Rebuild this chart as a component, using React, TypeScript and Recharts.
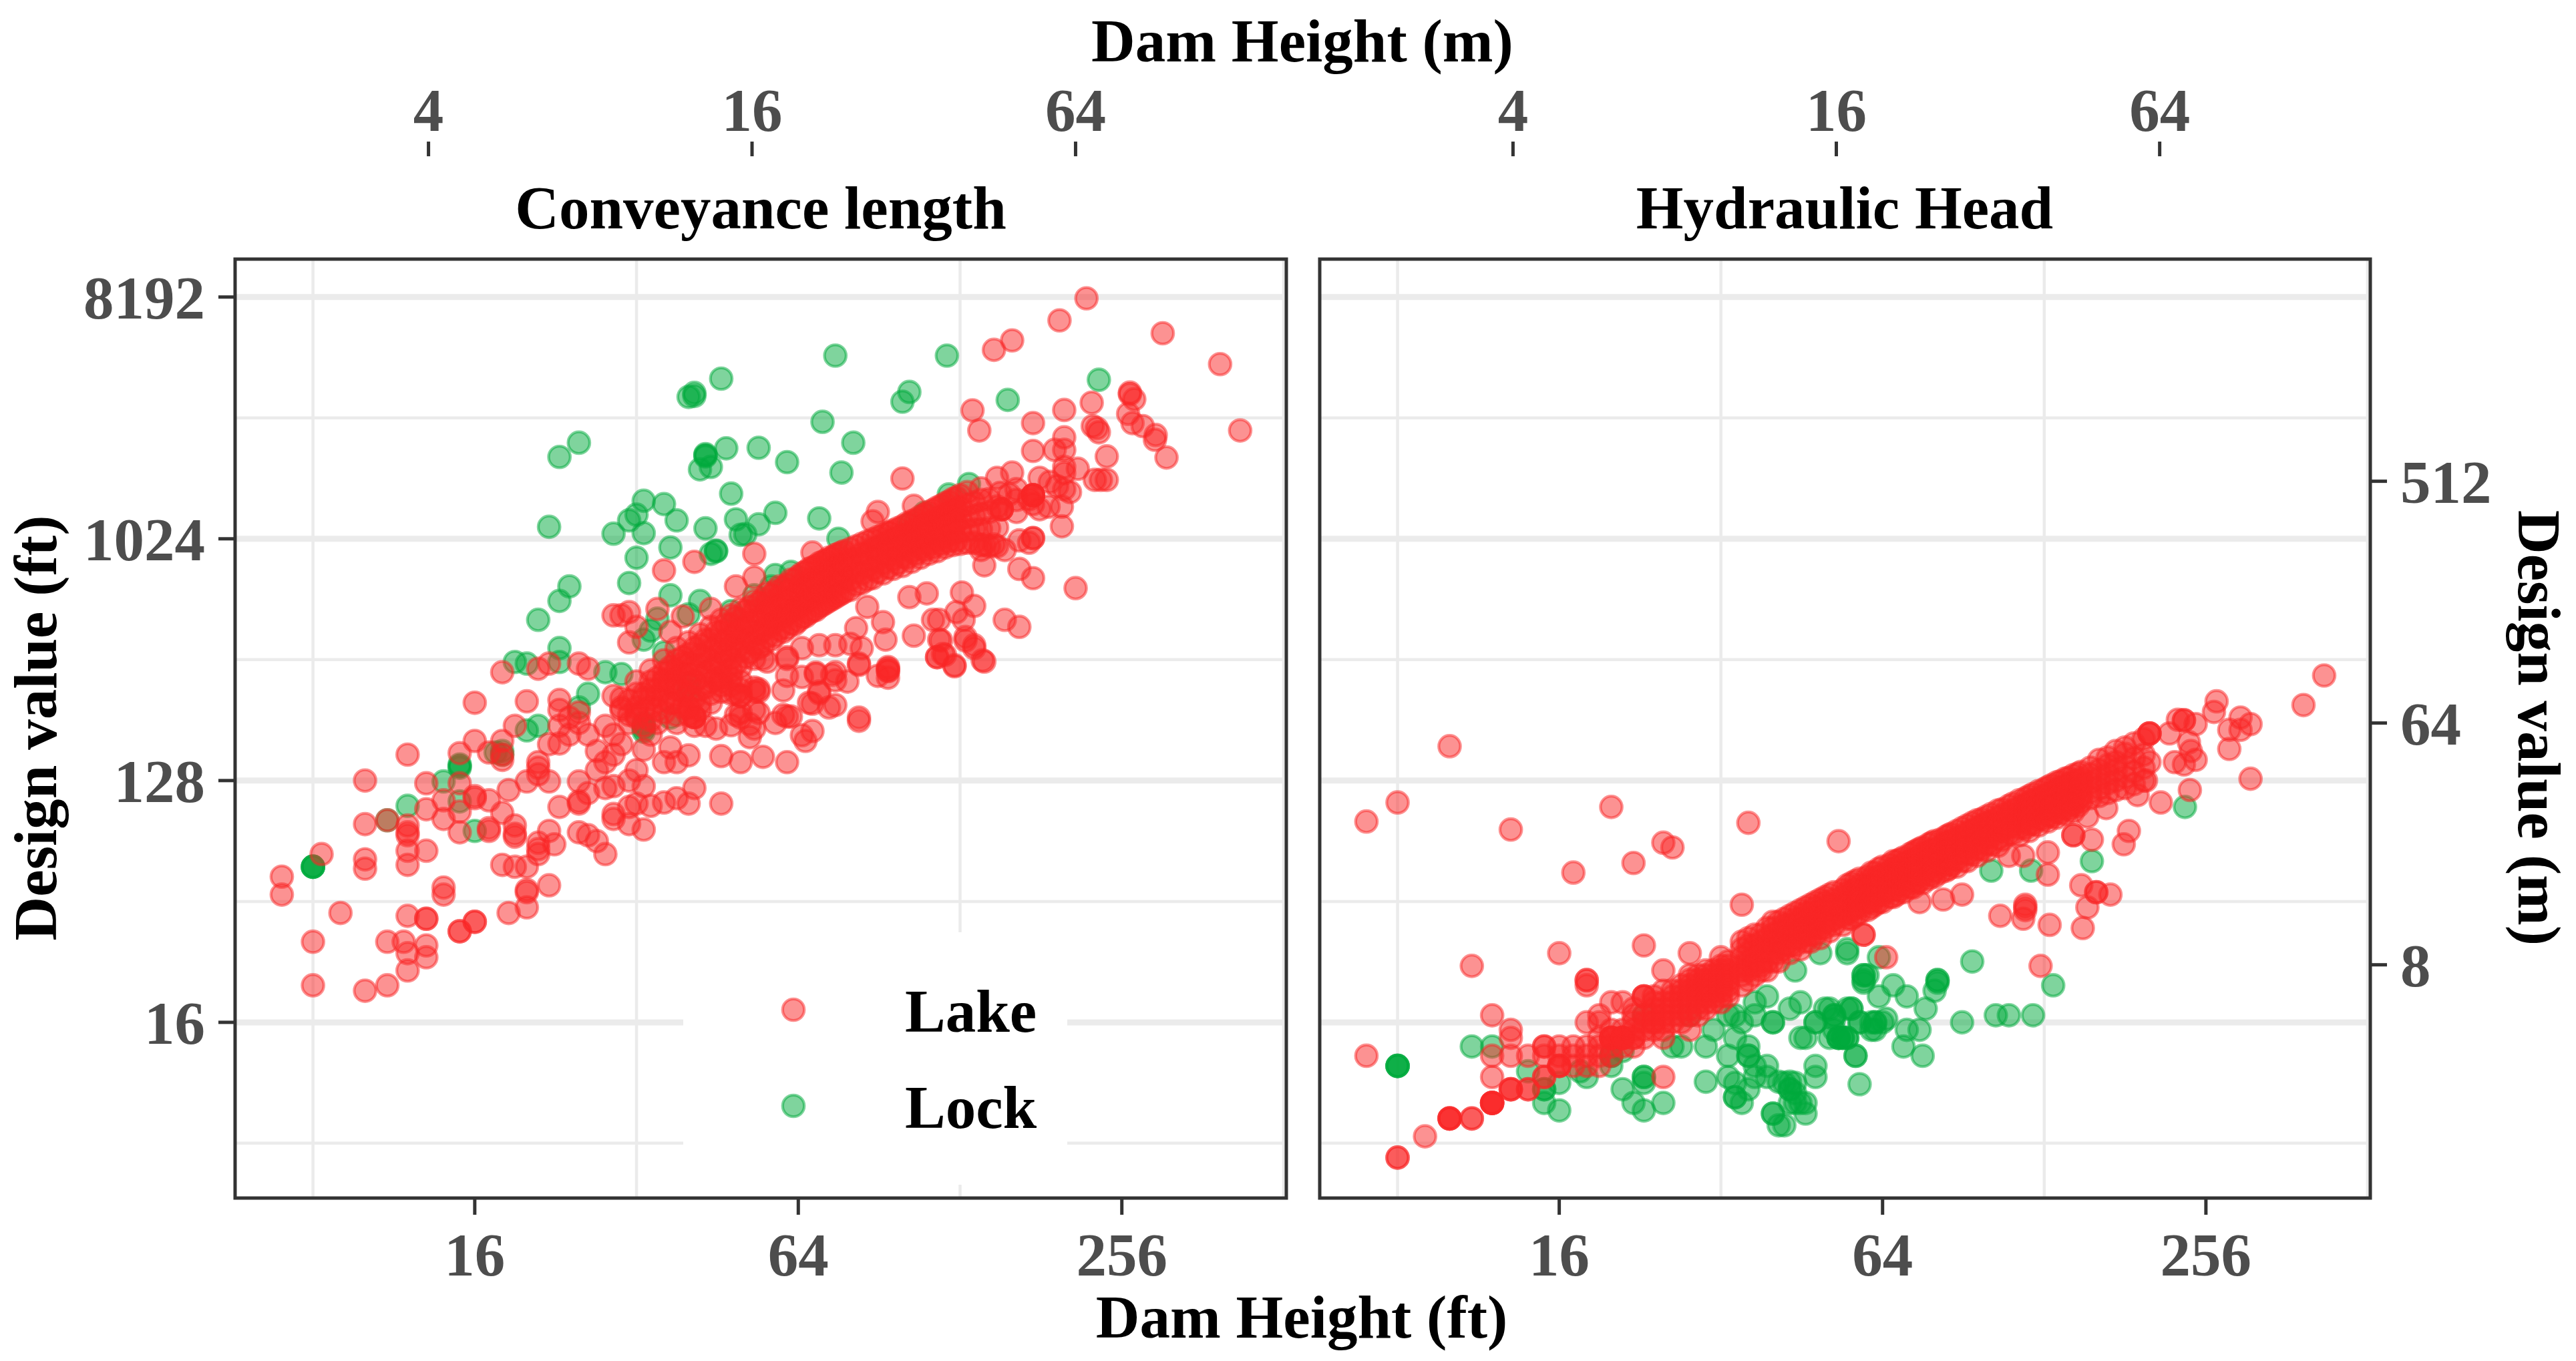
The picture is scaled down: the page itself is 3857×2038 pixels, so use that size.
import React from "react";
import {
  ScatterChart,
  Scatter,
  XAxis,
  YAxis,
  CartesianGrid,
  ReferenceArea,
  Legend,
} from "recharts";

// rows are [dam height in ft, ...design values in ft at that height]
const lakeConveyance: number[][] = [
  [7, 56, 48], [8, 32, 22], [8.3, 68], [9, 41], [10, 128, 88, 65, 60, 21], [11, 91, 32, 22],
  [11.8, 32], [12, 160, 87, 82, 80, 70, 62, 40, 29, 25], [13, 125, 100, 70, 39, 39, 31, 28],
  [14, 108, 92, 51, 48], [15, 162, 125, 98, 82, 35, 35], [16, 250, 180, 112, 110, 38, 38],
  [17, 163, 108, 85, 83], [18, 325, 180, 160, 153, 97, 62], [18.5, 118, 41],
  [19, 205, 87, 81, 79, 61], [20, 253, 127, 61, 50, 49, 43], [21, 335, 150, 143, 135, 75, 71, 68],
  [22, 350, 175, 127, 83, 52], [22.5, 74], [23, 256, 235, 205, 176, 102], [24, 220, 190],
  [25, 350, 230, 210, 127, 107, 105, 82], [26, 335, 190, 115, 80], [27, 165, 140, 76],
  [28, 205, 150, 120, 68], [29, 530, 265, 190, 160, 122, 96, 92], [30, 530, 240, 175],
  [31, 545, 420, 210, 128, 102, 88], [32, 480, 300, 225, 140, 105], [33, 260, 167, 122, 84],
  [34, 190, 103], [35, 560, 280, 210], [36, 780, 305, 150, 106], [37, 460, 330, 250, 170],
  [38, 290, 150, 110], [39, 525, 350], [40, 105, 159, 240], [41, 840, 221, 221, 221, 205, 120],
  [43, 205], [44, 560], [45, 200], [46, 158, 105], [48, 206], [49, 680, 270, 225], [50, 265, 230, 150, 220],
  [52, 208, 186], [53, 900, 735, 365, 285, 235, 275, 200], [54, 281, 229, 275], [55, 365, 157],
  [56, 356], [58, 210], [60, 278, 225], [61, 370, 364, 315, 222, 150], [62, 222], [65, 400, 312, 189],
  [66, 180], [67, 250], [68, 910, 248, 196], [69, 324, 320], [70, 410, 275, 271], [73, 240],
  [74, 318], [75, 410, 325, 303, 245], [79, 300], [80, 415], [82, 475], [83, 350, 346, 220, 214],
  [84, 400], [86, 570], [88, 1190], [90, 1290, 315], [92, 500], [93, 430], [94, 340, 335, 330, 328, 310],
  [95, 1080], [100, 1720], [103, 620], [105, 1360, 445], [111, 640], [114, 510], [116, 370, 370],
  [117, 510, 430], [118, 427], [119, 380], [120, 377], [125, 345, 342], [126, 545], [129, 645],
  [130, 510], [131, 440, 427], [136, 575, 410, 400], [141, 360], [142, 975, 815, 356],
  [135, 3090], [139, 2600], [140, 1580, 930], [148, 5200, 975], [150, 1730], [153, 1320, 1320, 1320],
  [155, 930, 510], [160, 5640, 1810], [163, 1430, 1290, 1570], [165, 1010, 790, 480], [172, 990, 1440],
  [175, 2770, 2180, 1490, 1490, 1490, 1490, 1030, 1030, 730, 1380], [180, 1730, 1320], [192, 2200],
  [152, 1520], [158, 1500], [187, 1350], [188, 1670], [194, 1610],
  [196, 6700], [198, 1140, 1350], [200, 3100, 2450, 2200, 1900, 1800, 1570], [205, 1530], [210, 670], [212, 1870],
  [220, 8100], [225, 3300], [226, 2700], [228, 1700], [230, 2650], [232, 2560], [234, 1700],
  [240, 2080, 1700], [263, 3000], [265, 3600, 3550], [268, 2770], [270, 3400], [280, 2700],
  [295, 2400], [296, 2500], [305, 6000], [310, 2060], [390, 4600], [425, 2600],
  // the thick band through the middle
  [30, 260, 235], [31, 255, 225], [32, 270, 240, 220], [33, 270, 235, 205], [34, 330, 300, 280, 260, 240, 215],
  [35, 310, 265, 235], [36, 360, 325, 300, 280, 255, 230], [37, 340, 295, 250],
  [38, 400, 360, 330, 305, 280, 250, 225, 210], [39, 370, 320, 275, 240],
  [40, 420, 380, 350, 320, 295, 265, 240, 225], [41, 400, 345, 300, 260],
  [42, 450, 410, 375, 345, 310, 280, 250, 235], [43, 430, 370, 325, 285],
  [44, 480, 430, 395, 360, 330, 300, 270, 250], [45, 460, 400, 350, 305],
  [46, 510, 460, 420, 385, 350, 310, 300, 290, 275], [47, 490, 425, 375, 330],
  [48, 530, 490, 445, 405, 365, 330, 310, 290, 270], [49, 520, 450, 400, 350],
  [50, 560, 510, 470, 430, 390, 340, 300, 280, 265], [51, 550, 480, 420, 370], [52, 570, 495, 435, 385],
  [53, 600, 550, 505, 460, 415], [54, 590, 515, 450, 400], [55, 610, 530, 465, 410],
  [56, 640, 590, 540, 490, 440], [57, 630, 555, 485, 430], [58, 650, 570, 500, 445],
  [59, 680, 620, 570, 520, 470], [60, 670, 590, 520, 460], [61, 690, 605, 535, 475],
  [62, 720, 660, 600, 550, 495], [63, 720, 630, 555, 490], [64, 740, 650, 570, 505],
  [65, 760, 690, 630, 575, 520], [66, 770, 670, 595, 525], [67, 790, 690, 610, 540],
  [68, 800, 730, 665, 610, 550], [69, 810, 710, 630, 555], [70, 830, 730, 645, 570],
  [71, 840, 760, 700, 640, 580], [72, 850, 750, 665, 590], [73, 870, 770, 680, 600],
  [74, 870, 800, 730, 670, 610], [75, 890, 790, 700, 620], [76, 900, 800, 715, 630],
  [77, 910, 835, 765, 700, 640], [78, 920, 820, 730, 650], [80, 940, 860, 790, 720, 660],
  [82, 960, 860, 770, 690], [84, 980, 900, 830, 760, 700], [86, 1000, 900, 810, 720],
  [88, 1020, 940, 860, 790, 730], [90, 1040, 950, 860, 770], [92, 1060, 980, 900, 830, 760],
  [94, 1080, 990, 890, 800], [96, 1100, 1020, 930, 860, 790], [98, 1120, 1030, 930, 830],
  [100, 1140, 1050, 960, 880, 810], [102, 1170, 1060, 970, 870], [104, 1190, 1090, 1000, 920, 840],
  [106, 1210, 1110, 1010, 900], [108, 1240, 1130, 1040, 950, 870], [110, 1260, 1150, 1040, 930],
  [112, 1290, 1180, 1080, 980, 900], [114, 1310, 1190, 1080, 950], [116, 1340, 1220, 1110, 1010, 920],
  [118, 1360, 1230, 1110, 980], [120, 1390, 1260, 1150, 1040, 950], [122, 1410, 1270, 1150, 1000],
  [124, 1440, 1300, 1180, 1070, 970], [126, 1460, 1310, 1180, 1010], [128, 1490, 1340, 1210, 1090, 980],
  [132, 1530, 1370, 1230, 1100, 990], [136, 1400, 1250, 1110, 990], [140, 1430, 1270, 1110, 970],
  [145, 1440, 1290, 1120, 960], [150, 1350, 1130, 960],
];

const lockConveyance: number[][] = [
  [8, 61, 61, 61, 61], [11, 91], [12, 103], [14, 127], [15, 147, 145, 143, 107], [16, 83],
  [17.5, 163], [18, 165, 160], [19, 355], [20, 350, 197], [21, 510, 205], [22, 1135],
  [23, 2070, 600, 400, 355], [24, 680], [25, 2340, 240], [26, 270], [28, 325], [29, 1070],
  [30, 320], [31, 1200, 700], [32, 1260, 870], [33, 1420, 1075, 430, 210, 205, 200, 195],
  [34, 465], [35, 515], [36, 1380, 385], [37, 950, 630, 220], [38, 1200], [40, 3470, 535, 290, 278],
  [41, 3590, 3500], [42, 1860, 600], [43, 2120, 2100, 2080, 1120], [44, 1900, 900], [45, 925, 920],
  [46, 4060], [47, 2230], [48, 1510, 550], [49, 1210], [50, 1060], [51, 1065], [53, 630],
  [54, 2240, 1160], [57, 680], [58, 1280, 750], [61, 1980], [62, 770], [70, 1220], [71, 2800],
  [75, 4950], [76, 1024], [77, 1810], [81, 2340], [100, 3330], [103, 3620, 1160], [110, 1280],
  [121, 4950], [122, 1500], [133, 1640], [157, 3380], [232, 4020],
];

const lakeHead: number[][] = [
  [7, 90, 12], [8, 106, 5, 5], [9, 6], [10, 172, 7, 7, 7, 7], [11, 26, 7, 7],
  [12, 17, 12, 10, 8, 8, 8, 8, 8], [13, 84, 15, 14, 12, 9, 9, 9], [14, 12, 9, 9],
  [15, 13, 13, 12, 10, 10], [16, 29, 13, 12, 11, 11, 11], [17, 58, 13, 12, 11],
  [18, 23, 23, 22, 16, 13, 12, 11], [19, 17, 16, 14, 13, 12, 11],
  [20, 102, 19, 15, 14, 14, 14, 14, 13, 12], [21, 19, 15, 14, 14, 14, 14, 14, 13],
  [22, 63, 18, 17, 16, 15, 14, 14, 13], [23, 31, 20, 20, 20, 17, 16, 15, 14],
  [24, 20, 19, 18, 17, 16, 16, 15], [25, 75, 25, 21, 19, 18, 17, 16, 15, 14, 10],
  [26, 72, 21, 20, 19, 18, 17, 16], [27, 22, 21, 20, 19, 18, 17, 16],
  [28, 29, 24, 23, 22, 21, 20, 19, 18, 17, 15], [29, 24, 23, 22, 21, 20, 19, 18, 17],
  [30, 25, 24, 23, 22, 21, 20, 19, 18], [31, 25, 24, 23, 22, 21, 20, 19],
  [32, 28, 26, 25, 24, 23, 22, 21, 20, 19], [33, 27, 26, 25, 24, 23, 22, 21, 20],
  [35, 44, 32, 30, 28, 26, 25, 24, 22], [36, 89, 33, 31, 29, 27, 26, 25, 23],
  [37, 34, 31, 28, 26, 24], [38, 34, 32, 30, 29, 27, 26, 25], [39, 36, 33, 30, 27, 25],
  [40, 38, 36, 34, 32, 30, 29, 27], [41, 38, 35, 32, 29, 27], [42, 39, 37, 35, 33, 31, 30],
  [43, 40, 37, 34, 31, 29], [44, 41, 39, 37, 35, 33, 31], [45, 42, 39, 35, 33, 30],
  [46, 43, 41, 38, 36, 34, 32], [47, 44, 41, 37, 34, 32], [48, 45, 43, 40, 38, 36, 34],
  [49, 46, 42, 39, 36, 33], [50, 47, 45, 42, 40, 38, 36], [51, 48, 44, 41, 38, 35],
  [52, 49, 46, 44, 42, 39, 37], [53, 76], [54, 50, 47, 43, 40, 37], [55, 52, 49, 46, 44, 41, 39],
  [56, 53, 49, 45, 42, 39], [57, 54, 50, 47, 43, 40], [58, 55, 52, 49, 46, 43, 41], [59, 34, 34],
  [60, 56, 52, 49, 45, 42], [61, 58, 55, 52, 48, 45, 43], [62, 58, 54, 50, 47, 44],
  [63, 60, 56, 52, 48, 45], [64, 61, 57, 54, 50, 48, 45], [65, 28], [66, 62, 58, 54, 50, 47],
  [67, 64, 60, 56, 53, 50, 47], [68, 64, 60, 56, 52, 48], [69, 65, 61, 57, 53, 50],
  [70, 66, 63, 59, 55, 52, 49], [72, 68, 63, 59, 55, 51], [73, 69, 65, 61, 58, 54, 51],
  [74, 70, 65, 61, 57, 53], [75, 71, 66, 62, 58, 54, 45], [76, 72, 68, 64, 60, 57, 53],
  [78, 74, 69, 64, 60, 55], [79, 75, 70, 65, 61, 57], [80, 76, 71, 67, 63, 59, 56],
  [82, 77, 72, 68, 63, 58], [83, 46], [84, 79, 75, 70, 66, 62, 59], [85, 80, 75, 70, 65, 60],
  [86, 81, 76, 71, 66, 62], [88, 83, 78, 74, 69, 65, 61], [90, 85, 79, 74, 69, 64, 48],
  [92, 87, 82, 77, 72, 68, 64], [94, 89, 83, 78, 73, 68], [96, 91, 85, 80, 75, 71, 67],
  [98, 92, 87, 81, 76, 71], [100, 94, 89, 84, 79, 74, 70], [102, 96, 90, 85, 79, 74],
  [105, 99, 93, 88, 83, 78, 73], [106, 40], [107, 100, 95, 89, 83, 77], [110, 103, 97, 92, 86, 81, 67],
  [112, 105, 99, 93, 87, 81], [115, 108, 102, 96, 90, 85, 80], [117, 67, 39], [118, 110, 104, 97, 91, 85, 44, 43, 42],
  [120, 112, 106, 100, 94, 88, 83], [122, 114, 108, 101, 95, 88], [125, 117, 110, 104, 98, 92, 87],
  [126, 26], [128, 119, 112, 105, 98, 92], [130, 121, 114, 108, 101, 95, 90, 69, 57], [131, 37],
  [132, 123, 115, 108, 101, 94], [135, 126, 118, 111, 104, 98, 93], [137, 127, 120, 112, 104, 97],
  [140, 130, 122, 114, 107, 101, 96], [142, 131, 124, 115, 107, 100], [145, 134, 126, 118, 110, 104, 98, 80, 80],
  [148, 136, 128, 119, 110, 103], [150, 138, 130, 122, 113, 107, 52], [151, 36], [154, 94, 43],
  [156, 143, 135, 126, 116, 110], [157, 77], [160, 49, 49], [162, 153, 140, 130, 120, 112], [167, 101],
  [168, 156, 146, 135, 125, 115], [170, 48], [174, 165, 150, 140, 128, 118], [180, 74],
  [181, 170, 161, 145, 132, 120], [184, 83], [188, 176, 155, 138, 124], [191, 113],
  [196, 183, 160, 143, 128], [198, 128], [201, 192, 192, 192, 150], [211, 106], [219, 192], [224, 150],
  [227, 216], [233, 215, 215, 147], [238, 178], [239, 118], [240, 165], [245, 208, 153], [265, 231],
  [268, 253], [283, 198, 168], [297, 198, 220], [310, 208, 130], [389, 245], [425, 316],
];

const lockHead: number[][] = [
  [8, 11, 11, 11, 11], [11, 13], [12, 13], [14, 10.5], [15, 9, 9, 8], [16, 9.5, 7.5], [17.5, 10.5],
  [18, 10], [20, 12, 12, 11], [21, 12.5, 9], [22, 8], [23, 17, 10, 10, 9.5, 7.5], [25, 8],
  [26, 13], [27, 13], [28, 17], [30, 13, 9.6], [31, 15], [33, 17, 12, 10], [34, 17, 14, 9.5, 8.4, 8.4],
  [35, 16, 8], [36, 13, 12, 12, 9], [37, 19, 17, 11, 10], [39, 20, 11, 10], [40, 16, 16, 7.3, 7.3],
  [41, 9.6, 6.6], [42, 9.5, 6.6], [43, 18, 9.6, 9, 9, 8], [44, 25, 9.5, 8.7, 8], [45, 19, 14, 8],
  [46, 14, 8, 7.3], [48, 16, 16, 11, 10], [49, 29], [50, 18], [51, 18, 14], [52, 17, 17, 16.5, 15],
  [53, 14, 14, 14], [54, 14, 14], [55, 30, 29, 18, 14, 14], [56, 18, 18], [57, 12, 12], [58, 16, 16, 9.4],
  [59, 24, 24, 23, 22.5], [60, 24], [61, 16, 15], [62, 16, 16, 15], [63, 28, 20], [64, 16], [65, 16.5],
  [67, 22], [70, 13], [71, 20, 15], [75, 15], [76, 12], [77, 18], [80, 21], [81, 23, 23, 22.5],
  [90, 16], [94, 27], [102, 59], [104, 17], [110, 17], [121, 59], [122, 17], [133, 22], [157, 64], [234, 102],
];

const FT_TO_M = 0.3048;
const xDomainFt = [5.73, 518];
const yDomainFt = [3.53, 11350];
const xDomainM = xDomainFt.map((v) => v * FT_TO_M);
const yDomainM = yDomainFt.map((v) => v * FT_TO_M);

const xTicksFt = [16, 64, 256];
const xTicksM = [4, 16, 64];
const yTicksFt = [16, 128, 1024, 8192];
const yTicksM = [8, 64, 512];
const yMinorFt = [5.66, 45.25, 362, 2896];
const xMinorFt = [8, 32, 128, 512];

const LAKE = "#FA2525";
const LOCK = "#00AA3C";
const GRID = "#EBEBEB";
const FRAME = "#333333";
const FONT = "'Liberation Serif', serif";

const toPoints = (rows: number[][]) =>
  rows.flatMap(([height, ...values]) => values.map((value) => ({ height, value })));

const Dot = ({ cx, cy, fill }: any) => (
  <circle
    cx={cx}
    cy={cy}
    r={16.2}
    fill={fill}
    fillOpacity={0.5}
    stroke={fill}
    strokeOpacity={0.5}
    strokeWidth={4.3}
  />
);

const tickText = { fontFamily: FONT, fontWeight: 700, fontSize: 91, fill: "#4D4D4D" };
const tickMark = { stroke: FRAME, strokeWidth: 5 };

const LegendBox = ({ payload }: any) => (
  <div style={{ background: "#fff", width: 575, height: 378, position: "relative" }}>
    {(payload || []).filter((entry: any) => entry.value).map((entry: any, i: number) => (
      <div key={entry.value}>
        <svg
          width={50}
          height={50}
          style={{ position: "absolute", left: 140, top: 91 + i * 144 }}
        >
          <Dot cx={25} cy={25} fill={entry.color} />
        </svg>
        <div
          style={{
            position: "absolute",
            left: 332,
            top: 69 + i * 144,
            fontFamily: FONT,
            fontWeight: 700,
            fontSize: 91,
            lineHeight: "100px",
            color: "#000",
          }}
        >
          {entry.value}
        </div>
      </div>
    ))}
  </div>
);

const Panel = ({
  left,
  width,
  margin,
  lake,
  lock,
  rightAxis,
}: {
  left: number;
  width: number;
  margin: { top: number; right: number; bottom: number; left: number };
  lake: number[][];
  lock: number[][];
  rightAxis: boolean;
}) => (
  <div style={{ position: "absolute", left, top: 0 }}>
    <ScatterChart width={width} height={2038} margin={margin}>
      <CartesianGrid
        stroke={GRID}
        strokeWidth={9}
        vertical={false}
        horizontalValues={yTicksFt}
      />
      <CartesianGrid
        stroke={GRID}
        strokeWidth={4.5}
        horizontalValues={yMinorFt}
        verticalValues={xMinorFt}
      />
      <XAxis
        type="number"
        dataKey="height"
        scale="log"
        domain={xDomainFt}
        allowDataOverflow
        ticks={xTicksFt}
        interval={0}
        height={150}
        tickSize={25}
        tickMargin={26}
        tick={tickText}
        tickLine={tickMark}
        axisLine={false}
      />
      <XAxis
        xAxisId="gap"
        type="number"
        orientation="top"
        scale="log"
        domain={xDomainFt}
        allowDataOverflow
        height={154}
        ticks={[]}
        tick={false}
        tickLine={false}
        axisLine={false}
      />
      <XAxis
        xAxisId="m"
        type="number"
        dataKey="height"
        orientation="top"
        scale="log"
        domain={xDomainM}
        allowDataOverflow
        ticks={xTicksM}
        interval={0}
        height={130}
        tickSize={22}
        tickMargin={16}
        tick={tickText}
        tickLine={tickMark}
        axisLine={false}
      />
      <YAxis
        type="number"
        dataKey="value"
        scale="log"
        domain={yDomainFt}
        allowDataOverflow
        hide={rightAxis}
        ticks={yTicksFt}
        interval={0}
        width={352}
        tickSize={25}
        tickMargin={20}
        tick={tickText}
        tickLine={tickMark}
        axisLine={false}
      />
      {rightAxis && (
        <YAxis
          yAxisId="m"
          type="number"
          dataKey="value"
          orientation="right"
          scale="log"
          domain={yDomainM}
          allowDataOverflow
          ticks={yTicksM}
          interval={0}
          width={308}
          tickSize={25}
          tickMargin={20}
          tick={tickText}
          tickLine={tickMark}
          axisLine={false}
        />
      )}
      {/* keeps the secondary axes alive, they hold no marks of their own */}
      <Scatter xAxisId="m" data={[]} legendType="none" isAnimationActive={false} />
      {rightAxis && (
        <Scatter yAxisId="m" data={[]} legendType="none" isAnimationActive={false} />
      )}
      <Scatter
        name="Lock"
        data={toPoints(lock)}
        fill={LOCK}
        stroke={LOCK}
        shape={Dot}
        isAnimationActive={false}
      />
      <Scatter
        name="Lake"
        data={toPoints(lake)}
        fill={LAKE}
        stroke={LAKE}
        shape={Dot}
        isAnimationActive={false}
      />
      <ReferenceArea
        x1={xDomainFt[0]}
        x2={xDomainFt[1]}
        y1={yDomainFt[0]}
        y2={yDomainFt[1]}
        fill="none"
        stroke={FRAME}
        strokeWidth={5}
        ifOverflow="visible"
      />
      {!rightAxis && (
        <Legend
          layout="vertical"
          align="center"
          verticalAlign="middle"
          itemSorter="value"
          content={LegendBox}
          wrapperStyle={{ left: 1023, top: 1396, width: 575, height: 378 }}
        />
      )}
    </ScatterChart>
  </div>
);

const titleStyle = { fontFamily: FONT, fontWeight: 700, fontSize: 91, fill: "#000" };

export default function App() {
  return (
    <div
      style={{
        position: "absolute",
        left: 0,
        top: 0,
        width: 3857,
        height: 2038,
        background: "#fff",
        overflow: "hidden",
      }}
    >
      <Panel
        left={0}
        width={1950}
        margin={{ top: 104, right: 24, bottom: 94, left: 0 }}
        lake={lakeConveyance}
        lock={lockConveyance}
        rightAxis={false}
      />
      <Panel
        left={1950}
        width={1907}
        margin={{ top: 104, right: 0, bottom: 94, left: 26 }}
        lake={lakeHead}
        lock={lockHead}
        rightAxis
      />
      <svg
        width={3857}
        height={2038}
        style={{ position: "absolute", left: 0, top: 0, pointerEvents: "none" }}
      >
        <text x={1950} y={92} textAnchor="middle" style={titleStyle}>Dam Height (m)</text>
        <text x={1949} y={2003} textAnchor="middle" style={titleStyle}>Dam Height (ft)</text>
        <text x={1139} y={342} textAnchor="middle" style={titleStyle}>Conveyance length</text>
        <text x={2762} y={342} textAnchor="middle" style={titleStyle}>Hydraulic Head</text>
        <text x={84} y={1090} textAnchor="middle" transform="rotate(-90 84 1090)" style={titleStyle}>
          Design value (ft)
        </text>
        <text x={3771} y={1090} textAnchor="middle" transform="rotate(90 3771 1090)" style={titleStyle}>
          Design value (m)
        </text>
      </svg>
    </div>
  );
}
